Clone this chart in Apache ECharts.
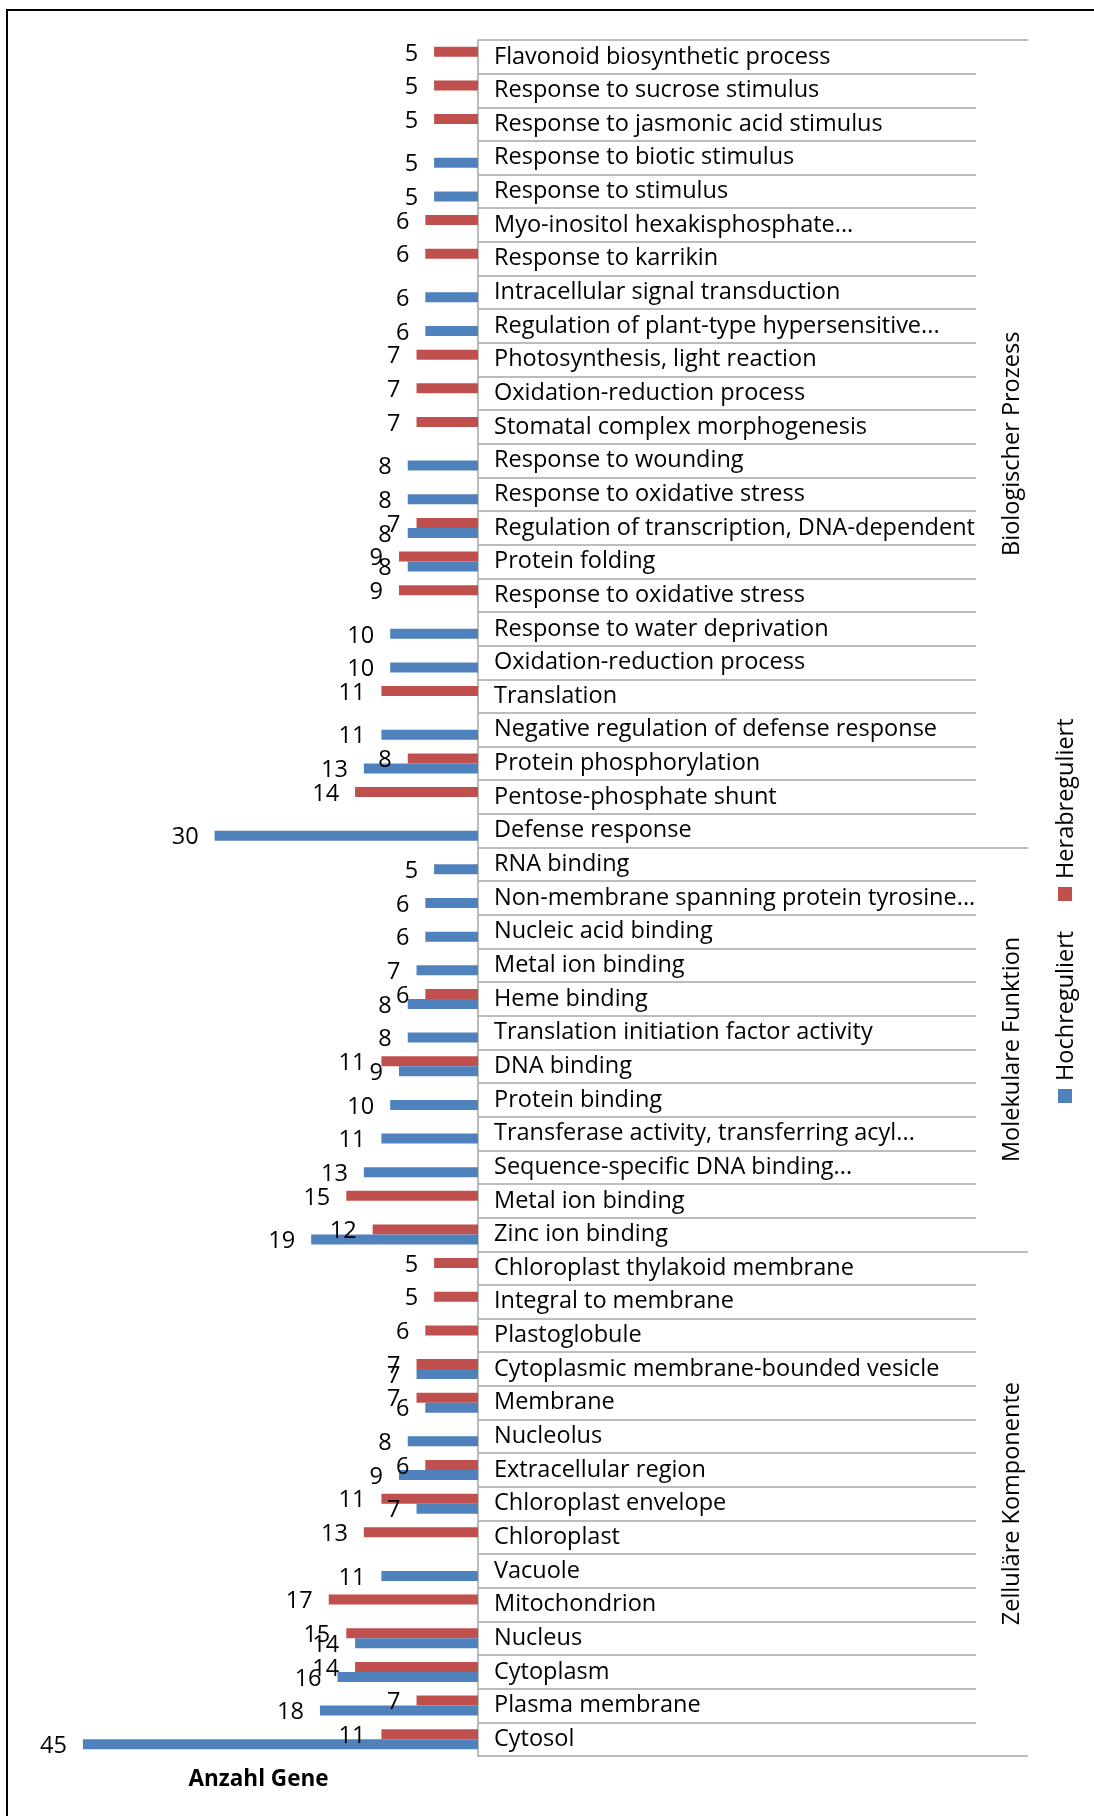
<!DOCTYPE html>
<html>
<head>
<meta charset="utf-8">
<script src="https://cdn.jsdelivr.net/npm/echarts@6/dist/echarts.min.js"></script>
<style>
  html, body { margin: 0; padding: 0; background: #fff; }
  #chart { width: 1094px; height: 1816px; }
</style>
</head>
<body>
<div id="chart"></div>
<script>
// GO terms, top to bottom, grouped by ontology
const categories = [
  'Flavonoid biosynthetic process',
  'Response to sucrose stimulus',
  'Response to jasmonic acid stimulus',
  'Response to biotic stimulus',
  'Response to stimulus',
  'Myo-inositol hexakisphosphate...',
  'Response to karrikin',
  'Intracellular signal transduction',
  'Regulation of plant-type hypersensitive...',
  'Photosynthesis, light reaction',
  'Oxidation-reduction process',
  'Stomatal complex morphogenesis',
  'Response to wounding',
  'Response to oxidative stress',
  'Regulation of transcription, DNA-dependent',
  'Protein folding',
  'Response to oxidative stress',
  'Response to water deprivation',
  'Oxidation-reduction process',
  'Translation',
  'Negative regulation of defense response',
  'Protein phosphorylation',
  'Pentose-phosphate shunt',
  'Defense response',
  'RNA binding',
  'Non-membrane spanning protein tyrosine...',
  'Nucleic acid binding',
  'Metal ion binding',
  'Heme binding',
  'Translation initiation factor activity',
  'DNA binding',
  'Protein binding',
  'Transferase activity, transferring acyl...',
  'Sequence-specific DNA binding...',
  'Metal ion binding',
  'Zinc ion binding',
  'Chloroplast thylakoid membrane',
  'Integral to membrane',
  'Plastoglobule',
  'Cytoplasmic membrane-bounded vesicle',
  'Membrane',
  'Nucleolus',
  'Extracellular region',
  'Chloroplast envelope',
  'Chloroplast',
  'Vacuole',
  'Mitochondrion',
  'Nucleus',
  'Cytoplasm',
  'Plasma membrane',
  'Cytosol'
];

// Number of up-regulated genes per term (null = term not enriched)
const hochreguliert = [
  null, null, null, 5, 5, null, null, 6, 6, null, null, null,
  8, 8, 8, 8, null, 10, 10, null, 11, 13, null, 30,
  5, 6, 6, 7, 8, 8, 9, 10, 11, 13, null, 19,
  null, null, null, 7, 6, 8, 9, 7, null, 11, null, 14, 16, 18, 45
];

// Number of down-regulated genes per term
const herabreguliert = [
  5, 5, 5, null, null, 6, 6, null, null, 7, 7, 7,
  null, null, 7, 9, 9, null, null, 11, null, 8, 14, null,
  null, null, null, null, 6, null, 11, null, null, null, 15, 12,
  5, 5, 6, 7, 7, null, 6, 11, 13, null, 17, 15, 14, 7, 11
];

// Ontology groups and how many terms each one holds
const groupNames = ['Biologischer Prozess', 'Molekulare Funktion', 'Zelluläre Komponente'];
const groupSizes = [24, 12, 15];

const seriesNames = ['Hochreguliert', 'Herabreguliert'];
const seriesColors = ['#4F81BD', '#C0504D'];

const FONT = '"Open Sans", sans-serif';
const FONT_SIZE = 23.5;
const LINE = '#a6a6a6';

// group boundaries and centres in row units
const groupBounds = [0];
const groupCenters = [];
groupSizes.forEach(function (n, i) {
  groupCenters.push(groupBounds[i] + n / 2);
  groupBounds.push(groupBounds[i] + n);
});

const chart = echarts.init(document.getElementById('chart'), null, { renderer: 'canvas' });

const labelStyle = {
  show: true,
  position: 'left',
  distance: 16,
  offset: [0, 2],
  fontSize: FONT_SIZE,
  fontFamily: FONT,
  color: '#000'
};

// down-regulated bar sits above the up-regulated one in each row
const barSeries = [
  { name: seriesNames[1], data: herabreguliert, color: seriesColors[1] },
  { name: seriesNames[0], data: hochreguliert, color: seriesColors[0] }
].map(function (s) {
  return {
    name: s.name,
    type: 'bar',
    yAxisIndex: 0,
    data: s.data,
    barWidth: 10,
    barGap: '0%',
    itemStyle: { color: s.color },
    label: labelStyle
  };
});

chart.setOption({
  animation: false,
  backgroundColor: '#fff',
  grid: { left: 39, right: 616, top: 40, bottom: 60, containLabel: false },
  xAxis: {
    type: 'value',
    inverse: true,
    min: 0,
    max: 50,
    axisLine: { show: false },
    axisTick: { show: false },
    axisLabel: { show: false },
    splitLine: { show: false },
    name: 'Anzahl Gene',
    nameLocation: 'middle',
    nameGap: 12,
    nameTextStyle: { fontSize: 22.5, fontWeight: 'bold', fontFamily: FONT, color: '#000', verticalAlign: 'top' }
  },
  yAxis: [
    {
      type: 'category',
      data: categories,
      inverse: true,
      position: 'right',
      axisLine: { show: true, lineStyle: { color: LINE, width: 1.5 } },
      axisTick: { show: true, interval: 0, length: 498, lineStyle: { color: LINE, width: 1.5 } },
      axisLabel: { interval: 0, margin: 16, fontSize: FONT_SIZE, fontFamily: FONT, color: '#000', padding: [4, 0, 0, 0] },
      splitLine: { show: false }
    },
    {
      type: 'value',
      inverse: true,
      min: 0,
      max: groupBounds[groupBounds.length - 1],
      position: 'right',
      axisLine: { show: false },
      splitLine: { show: false },
      axisTick: { show: true, customValues: groupBounds, length: 550, lineStyle: { color: LINE, width: 1.5 } },
      axisLabel: {
        show: true,
        customValues: groupCenters,
        rotate: 90,
        margin: 522,
        fontSize: FONT_SIZE,
        fontFamily: FONT,
        color: '#000',
        formatter: function (v) {
          const i = groupCenters.indexOf(v);
          return i >= 0 ? groupNames[i] : '';
        }
      }
    }
  ],
  series: barSeries,
  graphic: [
    {
      type: 'rect',
      silent: true,
      shape: { x: 7, y: 10, width: 1300, height: 2000 },
      style: { fill: 'none', stroke: '#000', lineWidth: 2 }
    },
    // vertical legend, reading bottom to top
    { type: 'rect', shape: { x: 1058, y: 1089, width: 14, height: 14 }, style: { fill: seriesColors[0] } },
    {
      type: 'text', x: 1066, y: 1081, rotation: Math.PI / 2,
      style: { text: seriesNames[0], fontSize: FONT_SIZE, fontFamily: FONT, fill: '#000', align: 'left', verticalAlign: 'middle' }
    },
    { type: 'rect', shape: { x: 1058, y: 887, width: 14, height: 14 }, style: { fill: seriesColors[1] } },
    {
      type: 'text', x: 1066, y: 879, rotation: Math.PI / 2,
      style: { text: seriesNames[1], fontSize: FONT_SIZE, fontFamily: FONT, fill: '#000', align: 'left', verticalAlign: 'middle' }
    }
  ]
});
</script>
</body>
</html>
